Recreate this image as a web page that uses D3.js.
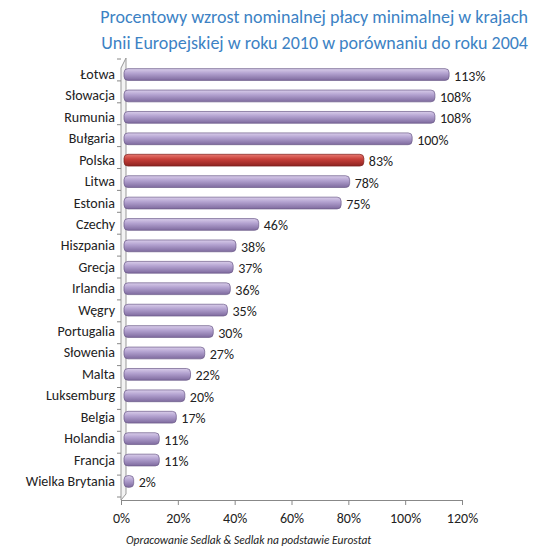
<!DOCTYPE html>
<html><head><meta charset="utf-8">
<script src="https://cdn.jsdelivr.net/npm/d3@7"></script>
<style>body{margin:0;background:#fff}</style></head>
<body><svg id="c" width="535" height="549"></svg>
<script>
var countries = ['Łotwa','Słowacja','Rumunia','Bułgaria','Polska','Litwa','Estonia','Czechy','Hiszpania','Grecja','Irlandia','Węgry','Portugalia','Słowenia','Malta','Luksemburg','Belgia','Holandia','Francja','Wielka Brytania'];
var growth = [113,108,108,100,83,78,75,46,38,37,36,35,30,27,22,20,17,11,11,2];
var ticks = [0,20,40,60,80,100,120];

var svg = d3.select('#c');
var font = 'Calibri, Carlito, Lato, sans-serif';
var defs = svg.append('defs');
function grad(id, c1, c2, c3) {
  var g = defs.append('linearGradient').attr('id', id).attr('x1',0).attr('y1',0).attr('x2',0).attr('y2',1);
  g.append('stop').attr('offset','0%').attr('stop-color', c1);
  g.append('stop').attr('offset','40%').attr('stop-color', c2);
  g.append('stop').attr('offset','100%').attr('stop-color', c3);
}
grad('gp', '#d9cdea', '#b3a2d0', '#7e6a9e');
grad('gr', '#e87a72', '#c8403a', '#8e2320');

svg.append('text').attr('x', 528).attr('y', 23).attr('text-anchor','end')
  .attr('font-family', font).attr('font-size', 18).attr('fill', '#3c82c4')
  .text('Procentowy wzrost nominalnej płacy minimalnej w krajach');
svg.append('text').attr('x', 528).attr('y', 49).attr('text-anchor','end')
  .attr('font-family', font).attr('font-size', 18).attr('fill', '#3c82c4')
  .text('Unii Europejskiej w roku 2010 w porównaniu do roku 2004');

var x = d3.scaleLinear().domain([0,120]).range([121,462]);
var y = d3.scaleBand().domain(countries).range([59,497]).padding(0.45);

// 3D wall
svg.append('path').attr('d','M121,500 L121,68 L126,58 L126,494 Z').attr('fill','#f3f3f3').attr('stroke','#999');

var xa = svg.append('g').attr('transform','translate(0,500)')
  .call(d3.axisBottom(x).tickValues(ticks).tickFormat(function(d){return d+'%';}).tickSize(5));
xa.select('.domain').attr('stroke','#888');
xa.selectAll('line').attr('stroke','#888');
xa.selectAll('text').attr('font-family', font).attr('font-size', 14).attr('fill','#222').attr('dy','1.1em');

var ya = svg.append('g').attr('transform','translate(121,0)')
  .call(d3.axisLeft(y).tickSize(0).tickPadding(6));
ya.select('.domain').remove();
ya.selectAll('text').attr('font-family', font).attr('font-size', 14).attr('fill','#222');
svg.selectAll('.tk').data(countries.concat(['_'])).enter().append('line')
  .attr('x1',117).attr('x2',121)
  .attr('y1', function(d,i){return 59 + i*(438/20);}).attr('y2', function(d,i){return 59 + i*(438/20);})
  .attr('stroke','#888');

svg.selectAll('.bar').data(growth).enter().append('rect')
  .attr('x', x(0) + 3)
  .attr('y', function(d,i){return y(countries[i]);})
  .attr('width', function(d){return x(d) - x(0) + 4;})
  .attr('height', y.bandwidth())
  .attr('rx', 4)
  .attr('fill', function(d,i){return countries[i]==='Polska' ? 'url(#gr)' : 'url(#gp)';})
  .attr('stroke', function(d,i){return countries[i]==='Polska' ? '#7a1f1c' : '#6b5a88';})
  .attr('stroke-width', 0.7);

svg.selectAll('.lbl').data(growth).enter().append('text')
  .attr('x', function(d){return x(d) + 12;})
  .attr('y', function(d,i){return y(countries[i]) + y.bandwidth()/2 + 6;})
  .attr('font-family', font).attr('font-size', 14).attr('fill','#222')
  .text(function(d){return d+'%';});

svg.append('text').attr('x', 126).attr('y', 544)
  .attr('font-family', font).attr('font-size', 11.5).attr('font-style','italic').attr('fill','#222')
  .text('Opracowanie Sedlak & Sedlak na podstawie Eurostat');
</script></body></html>
